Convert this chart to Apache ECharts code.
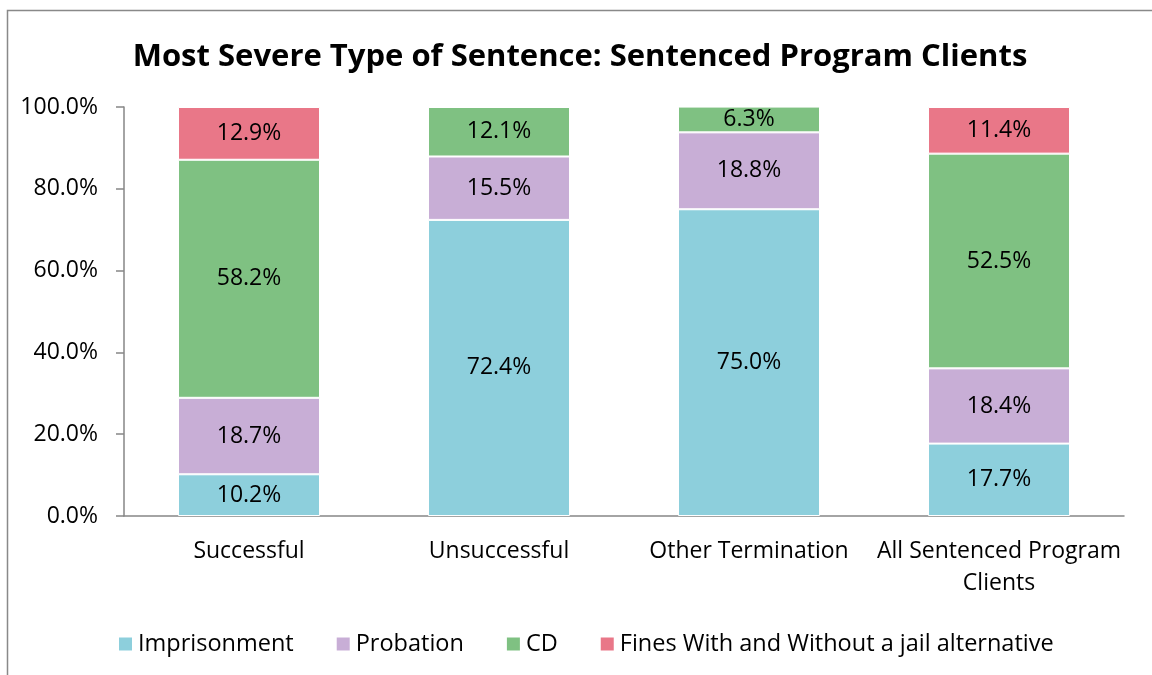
<!DOCTYPE html>
<html><head><meta charset="utf-8">
<script src="https://cdn.jsdelivr.net/npm/echarts@6/dist/echarts.min.js"></script>
<style>html,body{margin:0;padding:0;background:#fff}#c{width:1152px;height:675px}</style>
</head><body><div id="c"></div>
<script>
const categories = ['Successful', 'Unsuccessful', 'Other Termination', 'All Sentenced Program\nClients'];
const imprisonment = [10.2, 72.4, 75.0, 17.7];
const probation = [18.7, 15.5, 18.8, 18.4];
const cd = [58.2, 12.1, 6.3, 52.5];
const fines = [12.9, 0, 0, 11.4];
const yTicks = [0, 20, 40, 60, 80, 100];

const names = ['Imprisonment', 'Probation', 'CD', 'Fines With and Without a jail alternative'];
const colors = ['#8DCFDC', '#C8AED6', '#7FC182', '#E97788'];
const seriesData = [imprisonment, probation, cd, fines];
const font = '"Open Sans", sans-serif';

const chart = echarts.init(document.getElementById('c'), null, {renderer: 'canvas'});
chart.setOption({
  animation: false,
  textStyle: {fontFamily: font},
  graphic: [{type: 'rect', shape: {x: 7.5, y: 10.5, width: 1200, height: 800}, style: {fill: 'none', stroke: '#898989', lineWidth: 1.5}, silent: true}],
  title: {text: 'Most Severe Type of Sentence: Sentenced Program Clients', left: 575, textAlign: 'center', top: 37,
    textStyle: {fontFamily: font, fontSize: 31, fontWeight: 'bold', color: '#000'}},
  legend: {bottom: 14, left: 112, itemWidth: 15, itemHeight: 15, itemGap: 41, icon: 'rect',
    textStyle: {fontFamily: font, fontSize: 23.5, color: '#000'}, data: names},
  grid: {left: 124, right: 28, top: 107, bottom: 159},
  xAxis: {type: 'category', data: categories,
    axisLine: {lineStyle: {color: '#868686', width: 1.5}}, axisTick: {show: false},
    axisLabel: {fontFamily: font, fontSize: 23, color: '#000', margin: 19, lineHeight: 32, interval: 0}},
  yAxis: {type: 'value', min: yTicks[0], max: yTicks[yTicks.length - 1], interval: 20,
    axisLine: {show: true, lineStyle: {color: '#868686', width: 1.5}},
    axisTick: {show: true, length: 8, lineStyle: {color: '#868686', width: 1.5}},
    splitLine: {show: false},
    axisLabel: {fontFamily: font, fontSize: 23, color: '#000', margin: 26, formatter: v => v.toFixed(1) + '%'}},
  series: seriesData.map((d, i) => ({
    name: names[i], type: 'bar', stack: 'total', data: d, barWidth: 142,
    itemStyle: {color: colors[i], borderColor: '#fff', borderWidth: 1},
    label: {show: true, position: 'inside', fontFamily: font, fontSize: 23, color: '#000',
      formatter: p => p.value > 0 ? p.value.toFixed(1) + '%' : ''}
  }))
});
</script></body></html>
